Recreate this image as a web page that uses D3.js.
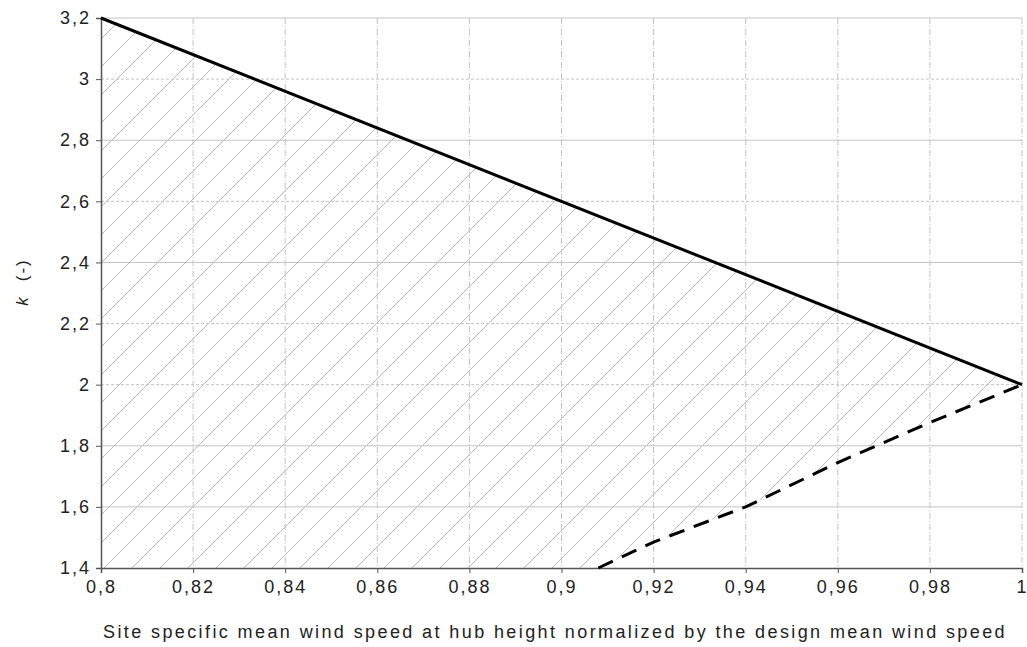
<!DOCTYPE html>
<html>
<head>
<meta charset="utf-8">
<script src="https://cdn.jsdelivr.net/npm/d3@7"></script>
<style>
  body { margin: 0; background: #fff; }
  svg text { font-family: "Liberation Sans", Arial, sans-serif; fill: #222; }
</style>
</head>
<body>
<svg id="chart" width="1027" height="647"></svg>
<script>
// axis ticks
const xTicks = [0.8, 0.82, 0.84, 0.86, 0.88, 0.9, 0.92, 0.94, 0.96, 0.98, 1];
const yTicks = [1.4, 1.6, 1.8, 2, 2.2, 2.4, 2.6, 2.8, 3, 3.2];
// grid style per horizontal line (as seen in the picture)
const yGridSolid = [3.2, 2.8, 2.4, 1.8, 1.6];

// upper limit (solid line)
const upperX = [0.8, 1.0];
const upperK = [3.2, 2.0];
// lower limit (dashed line)
const lowerX = [0.908, 0.92, 0.94, 0.96, 0.98, 1.0];
const lowerK = [1.4, 1.485, 1.6, 1.745, 1.876, 2.0];

const xLabel = 'Site specific mean wind speed at hub height normalized by the design mean wind speed';

const svg = d3.select('#chart');
const margin = { top: 18, right: 5, bottom: 79, left: 101 };
const width = 1027, height = 647;

const x = d3.scaleLinear().domain([0.8, 1]).range([margin.left, width - margin.right]);
const y = d3.scaleLinear().domain([1.4, 3.2]).range([height - margin.bottom, margin.top]);

const fmt = d => String(+d.toFixed(2)).replace('.', ',');

// hatch pattern
const defs = svg.append('defs');
const pat = defs.append('pattern')
  .attr('id', 'hatch')
  .attr('patternUnits', 'userSpaceOnUse')
  .attr('width', 28).attr('height', 28);
pat.append('path')
  .attr('d', 'M-7,7 L7,-7 M0,28 L28,0 M21,35 L35,21')
  .attr('stroke', '#bcbcbc').attr('stroke-width', 1);

// hatched area: below the upper line and above the lower line
const upper = upperX.map((v, i) => [v, upperK[i]]);
const lower = lowerX.map((v, i) => [v, lowerK[i]]);
const area = [[0.8, 1.4], ...upper, ...lower.slice().reverse().slice(1), [lowerX[0], 1.4]];
svg.append('path')
  .attr('d', d3.line().x(d => x(d[0])).y(d => y(d[1]))(area) + 'Z')
  .attr('fill', 'url(#hatch)');

// grid
svg.append('g').selectAll('line')
  .data(xTicks.slice(1))
  .join('line')
  .attr('x1', d => x(d)).attr('x2', d => x(d))
  .attr('y1', y(3.2)).attr('y2', y(1.4))
  .attr('stroke', '#c4c4c4').attr('stroke-width', 1)
  .attr('stroke-dasharray', '6,2,1,2');

svg.append('g').selectAll('line')
  .data(yTicks.slice(1))
  .join('line')
  .attr('x1', x(0.8)).attr('x2', x(1))
  .attr('y1', d => y(d)).attr('y2', d => y(d))
  .attr('stroke', '#c4c4c4').attr('stroke-width', 1)
  .attr('stroke-dasharray', d => yGridSolid.includes(d) ? null : '3,2');

// axes
const xAxis = d3.axisBottom(x).tickValues(xTicks).tickFormat(fmt).tickSize(5).tickPadding(6);
const yAxis = d3.axisLeft(y).tickValues(yTicks).tickFormat(fmt).tickSize(5).tickPadding(5);

const gx = svg.append('g')
  .attr('transform', `translate(0,${y(1.4)})`)
  .call(xAxis);
const gy = svg.append('g')
  .attr('transform', `translate(${x(0.8)},0)`)
  .call(yAxis);
[gx, gy].forEach(g => {
  g.attr('font-family', null);
  g.select('.domain').attr('stroke', '#555').attr('stroke-width', 1.5);
  g.selectAll('.tick line').attr('stroke', '#555');
  g.selectAll('.tick text')
    .attr('font-size', 18).attr('letter-spacing', 2).attr('fill', '#222');
});
gx.selectAll('.tick text').attr('dy', '0.75em');

// lines
const line = d3.line().x(d => x(d[0])).y(d => y(d[1]));
svg.append('path')
  .attr('d', line(upper))
  .attr('fill', 'none').attr('stroke', '#000').attr('stroke-width', 3);
svg.append('path')
  .attr('d', line(lower))
  .attr('fill', 'none').attr('stroke', '#000').attr('stroke-width', 3)
  .attr('stroke-dasharray', '16,10');

// axis titles
svg.append('text')
  .attr('x', 555).attr('y', 638)
  .attr('text-anchor', 'middle').attr('font-size', 18).attr('letter-spacing', 2.4)
  .text(xLabel);

const yt = svg.append('text')
  .attr('transform', 'translate(28,282) rotate(-90)')
  .attr('text-anchor', 'middle').attr('font-size', 17);
yt.append('tspan').attr('font-style', 'italic').text('k');
yt.append('tspan').attr('dx', 16).attr('letter-spacing', 2).text('(-)');
</script>
</body>
</html>
